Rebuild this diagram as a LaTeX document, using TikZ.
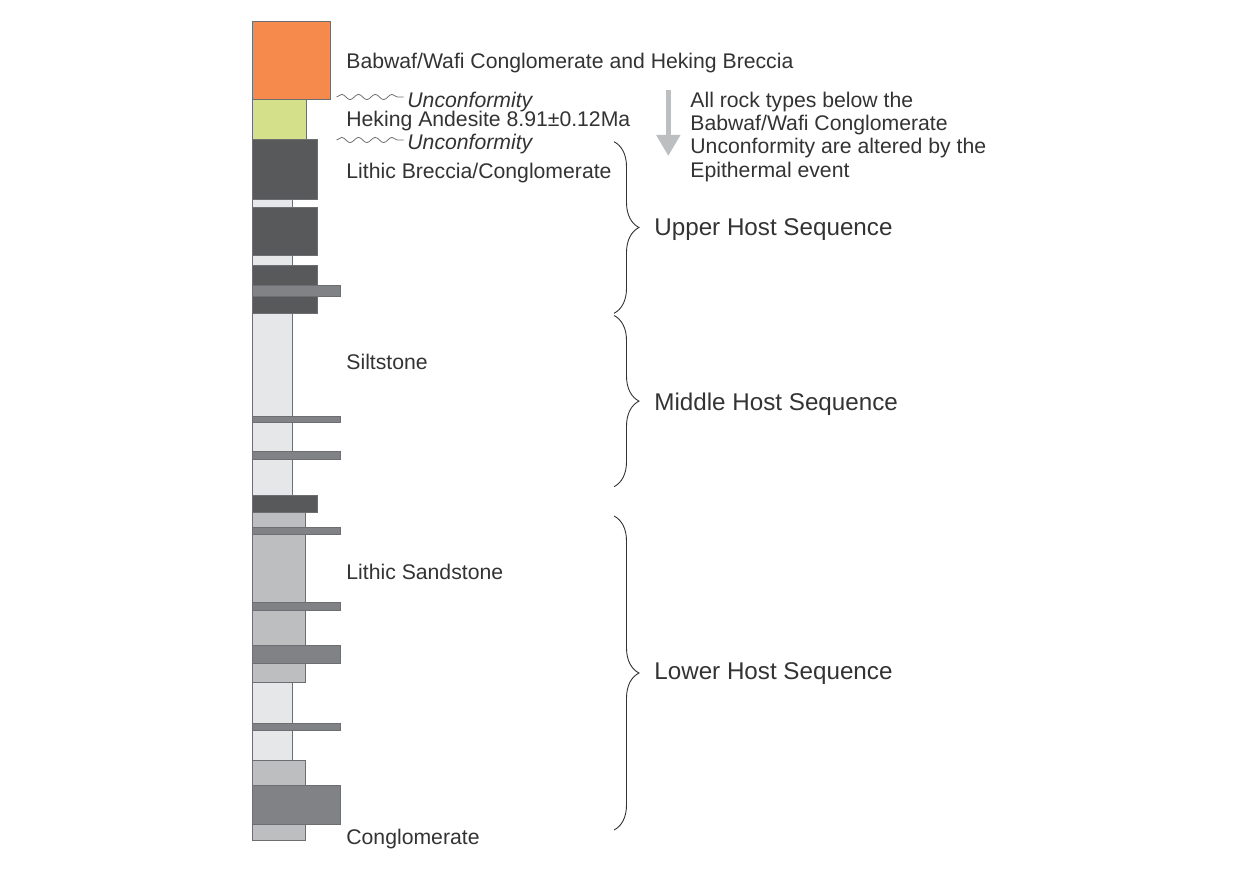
\documentclass[tikz,border=0pt]{standalone}
\usepackage{fontspec}
\setmainfont{Liberation Sans}
\usepackage{tikz}
\usetikzlibrary{positioning,decorations.pathreplacing,decorations.pathmorphing,arrows.meta}
\definecolor{lyrorange}{HTML}{F58A4C}
\definecolor{lyrgreen}{HTML}{D5E08B}
\definecolor{lyrdark}{HTML}{58595B}
\definecolor{lyrbar}{HTML}{808285}
\definecolor{lyrsand}{HTML}{BCBEC0}
\definecolor{lyrsilt}{HTML}{E6E7E8}
\definecolor{lyredge}{HTML}{6D6E71}
\definecolor{txtgray}{HTML}{333333}
\tikzset{
  layer/.style = {draw=lyredge, line width=0.4pt},% one bed of the column
  lbl/.style = {anchor=base west, inner sep=0pt, text=txtgray,
    font=\fontsize{10.6}{11.65}\selectfont},% rock names
  lbl_it/.style = {lbl, font=\fontsize{10.6}{11.65}\selectfont\itshape},
  seq/.style = {anchor=base west, inner sep=0pt, text=txtgray,
    font=\fontsize{12.1}{14}\selectfont},% host sequences
  hostbrace/.style = {decorate, decoration={brace, amplitude=12.5pt},
    draw=txtgray, line width=0.45pt},
  unconf/.style = {decorate, decoration={snake, segment length=8.375pt,
    amplitude=1.3pt}, draw=lyredge, line width=0.4pt},% wavy contact
  altarrow/.style = {draw=lyrsand, line width=2.35pt,
    -{Triangle[width=11.5pt,length=10.5pt]}}
}
\begin{document}
\begin{tikzpicture}[x=0.5pt,y=-0.5pt]
        \useasboundingbox (0,0) rectangle (1257,876);
        % stratigraphic column, top to bottom
        \foreach \t/\b/\r/\c in {21/99.3/330.3/lyrorange, 99.3/139.3/306/lyrgreen,
            139.3/199.3/317/lyrdark, 199.3/207.3/292.3/lyrsilt,
            207.3/255.7/317/lyrdark, 255.7/265.3/292.3/lyrsilt,
            265.3/285/317/lyrdark, 285/296.7/340.7/lyrbar,
            296.7/313/317/lyrdark, 313/416.7/292.3/lyrsilt,
            416.7/422.3/340.7/lyrbar, 422.3/451.7/292.3/lyrsilt,
            451.7/459.3/340.7/lyrbar, 459.3/495.3/292.3/lyrsilt,
            495.3/512.7/317/lyrdark, 512.7/527.3/305.7/lyrsand,
            527.3/534.7/340.7/lyrbar, 534.7/602.7/305.7/lyrsand,
            602.7/610.7/340.7/lyrbar, 610.7/645.3/305.7/lyrsand,
            645.3/663.3/340.7/lyrbar, 663.3/682/305.7/lyrsand,
            682/723.3/292.3/lyrsilt, 723.3/730/340.7/lyrbar,
            730/760/292.3/lyrsilt, 760/785.3/305.7/lyrsand,
            785.3/824.3/340.7/lyrbar, 824.3/840.3/305.7/lyrsand}
            \draw[layer, fill=\c] (252.5,\t) rectangle (\r,\b);
        % rock names
        \node [lbl](babwaf) at (346,69) {Babwaf/Wafi Conglomerate and Heking Breccia};
        \node [lbl_it](unc1) at (407,108) {Unconformity};
        \node [lbl](heking) at (346,126.5) {Heking Andesite 8.91±0.12Ma};
        \node [lbl_it](unc2) at (407,150) {Unconformity};
        \node [lbl](lithbx) at (346,178.5) {Lithic Breccia/Conglomerate};
        \node [lbl](silt) at (346,369.5) {Siltstone};
        \node [lbl](sand) at (346,579.5) {Lithic Sandstone};
        \node [lbl](congl) at (346,844.5) {Conglomerate};
        % unconformities
        \coordinate (w1a) at (336.5,97);
        \coordinate (w1b) at (403.5,97);
        \coordinate (w2a) at (336.5,140);
        \coordinate (w2b) at (403.5,140);
        \draw[unconf] (w1a) -- (w1b);
        \draw[unconf] (w2a) -- (w2b);
        % alteration note
        \coordinate (arr_s) at (668.3,90);
        \coordinate (arr_e) at (668.3,156);
        \draw[altarrow] (arr_s) -- (arr_e);
        \node [lbl, align=left, anchor=north west](alter) at (690,91.5) {All rock types below the\\
            Babwaf/Wafi Conglomerate\\Unconformity are altered by the\\Epithermal event};
        % host sequences
        \coordinate (up_t) at (614,141.7);
        \coordinate (up_b) at (614,313.3);
        \coordinate (mid_t) at (614,315.5);
        \coordinate (mid_b) at (614,486.7);
        \coordinate (low_t) at (614,516);
        \coordinate (low_b) at (614,830);
        \draw[hostbrace] (up_t) -- (up_b);
        \draw[hostbrace] (mid_t) -- (mid_b);
        \draw[hostbrace] (low_t) -- (low_b);
        \node [seq](upper) at (654,235.5) {Upper Host Sequence};
        \node [seq](middle) at (654,410.5) {Middle Host Sequence};
        \node [seq](lower) at (654,679.5) {Lower Host Sequence};
\end{tikzpicture}
\end{document}
